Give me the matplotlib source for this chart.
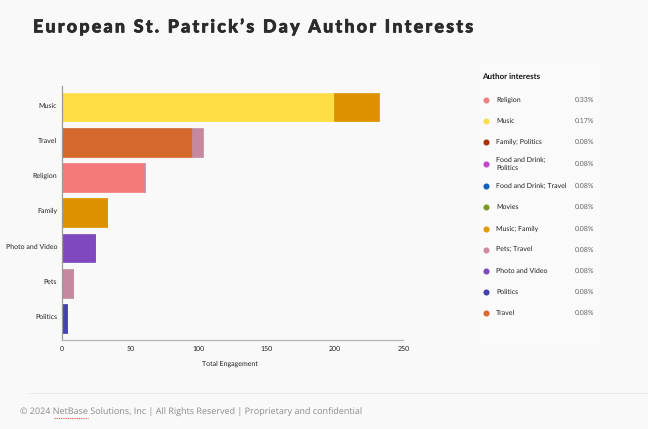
import matplotlib
matplotlib.use('Agg')
import matplotlib.pyplot as plt
import matplotlib.patheffects as pe
from matplotlib.patches import Rectangle
from matplotlib.transforms import ScaledTranslation

# bars, bottom to top
categories = ['Politics', 'Pets', 'Photo and Video', 'Family', 'Religion', 'Travel', 'Music']
first_values = [4, 8, 24, 33, 60, 95, 199]
first_colors = ['#4343b0', '#c6889f', '#7f48bf', '#dc9200', '#f47a7a', '#d5682d', '#ffdd45']
second_values = [0, 0, 0, 0, 0.6, 8, 33]
second_colors = ['#4343b0', '#c6889f', '#7f48bf', '#dc9200', '#c6889f', '#c6889f', '#dc9200']
x_ticks = [0, 50, 100, 150, 200, 250]

# legend
legend_names = ['Religion', 'Music', 'Family; Politics', 'Food and Drink;\nPolitics',
                'Food and Drink; Travel', 'Movies', 'Music; Family', 'Pets; Travel',
                'Photo and Video', 'Politics', 'Travel']
legend_pcts = ['0.33%', '0.17%', '0.08%', '0.08%', '0.08%', '0.08%', '0.08%', '0.08%',
               '0.08%', '0.08%', '0.08%']
legend_colors = ['#f47f7f', '#ffdd45', '#ab3208', '#c445cf', '#0f62bd', '#7f9a23',
                 '#e39a0c', '#cf8ba5', '#7f48bf', '#4343b0', '#dd6a30']

W, H = 648, 429
BG = '#f9f9f9'
plt.rcParams['font.family'] = ['Lato', 'DejaVu Sans']
plt.rcParams['text.hinting'] = 'no_hinting'
plt.rcParams['text.hinting_factor'] = 1

fig = plt.figure(figsize=(W / 100, H / 100), dpi=100, facecolor=BG)

# 像素坐标转成 figure 坐标
def fx(px):
    return px / W

def fy(py):
    return 1 - py / H

ax = fig.add_axes([fx(62), fy(340), (403.5 - 62) / W, (340 - 86) / H], facecolor=BG)
ax.barh(categories, first_values, height=0.81, color=first_colors, edgecolor=first_colors, linewidth=0.5)
ax.barh(categories, second_values, left=first_values, height=0.81, color=second_colors,
        edgecolor=second_colors, linewidth=0.5)
ax.set_xlim(0, 250)
ax.set_ylim(-0.61, 6.595)
ax.set_xticks(x_ticks)
ax.tick_params(axis='x', labelsize=5.3, length=0, pad=4.5, colors='#222222')
ax.tick_params(axis='y', labelsize=5.3, length=0, pad=3.4, colors='#222222')
# category labels sit a little above the bar centres
label_shift = ScaledTranslation(0, 1.5 / 72, fig.dpi_scale_trans)
for lab in ax.get_yticklabels():
    lab.set_transform(lab.get_transform() + label_shift)
ax.set_xlabel('Total Engagement', fontsize=5.2, color='#222222', labelpad=5.5, x=0.491)
ax.spines['top'].set_visible(False)
ax.spines['right'].set_visible(False)
ax.spines['left'].set_color('#9a9a9a')
ax.spines['bottom'].set_color('#b5b5b5')
ax.spines['left'].set_linewidth(0.9)
ax.spines['bottom'].set_linewidth(0.9)

# title, hair spaces for the wide tracking
title = 'European St. Patrick\u2019s Day Author Interests'
title_text = fig.text(fx(33), fy(27), '\u200a\u200a'.join(title), fontsize=12.85, fontweight='black',
                      color='#2b2b2b', va='center', ha='left')
title_text.set_path_effects([pe.withStroke(linewidth=0.5, foreground='#2b2b2b')])

# legend panel
fig.add_artist(Rectangle((fx(478), fy(345)), 124 / W, 280 / H, transform=fig.transFigure,
                         facecolor='#fafafa', edgecolor='none'))
fig.text(fx(482.5), fy(77.5), 'Author interests', fontsize=5.6, fontweight='bold',
         color='#111111', va='center')
legend_y = [99.5, 120.5, 141.5, 164, 186, 207, 228.5, 249.5, 270.5, 292, 313]
for name, pct, col, y in zip(legend_names, legend_pcts, legend_colors, legend_y):
    fig.add_artist(plt.Line2D([fx(486.5)], [fy(y)], marker='o', markersize=4.4, color=col,
                              markeredgecolor='none', transform=fig.transFigure))
    fig.text(fx(496), fy(y), name, fontsize=5.1, color='#222222', va='center', linespacing=1.25)
    fig.text(fx(594.5), fy(y), pct, fontsize=5.1, color='#666666', va='center', ha='right')

# footer
fig.add_artist(plt.Line2D([fx(28), 1], [fy(392.5), fy(392.5)], color='#ececec', linewidth=0.8,
                          transform=fig.transFigure))
fig.text(fx(20), fy(412.5), '\u00a9 2024 NetBase Solutions, Inc | All Rights Reserved | Proprietary and confidential',
         fontsize=6.4, color='#8a8a8a', va='center', family=['Open Sans', 'DejaVu Sans'])
# spell-check squiggle under NetBase
fig.add_artist(plt.Line2D([fx(54), fx(87.5)], [fy(418), fy(418)], color='#e0524a', linewidth=0.8,
                          linestyle=(0, (1, 1)), transform=fig.transFigure))

fig.savefig('out.png', dpi=100, facecolor=BG)
